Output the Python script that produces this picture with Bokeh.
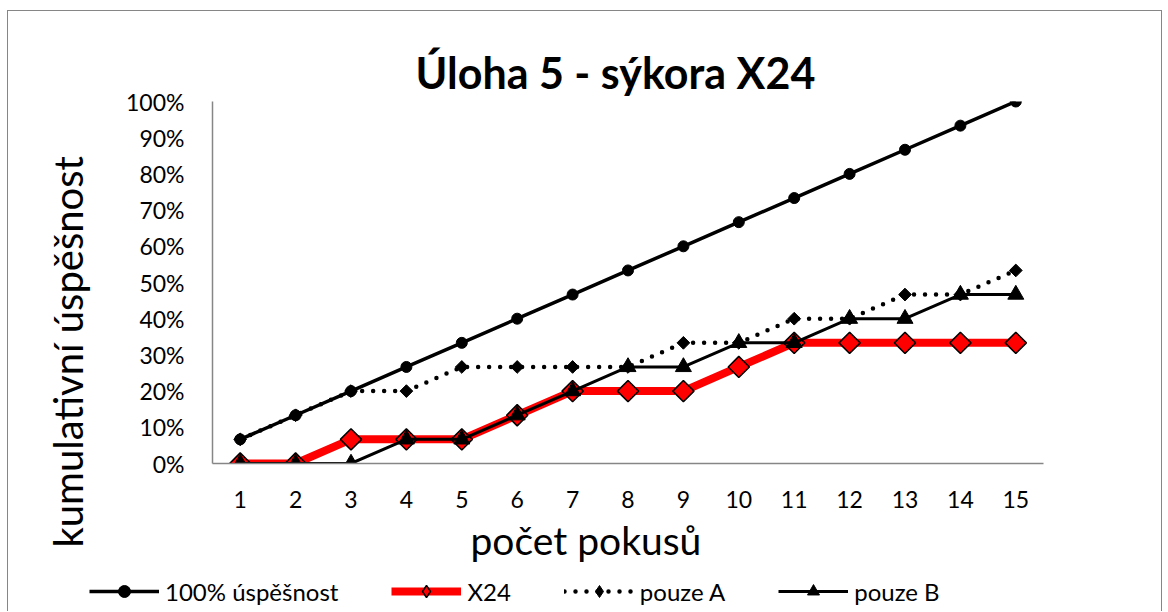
from bokeh.plotting import figure
from bokeh.models import Range1d, FixedTicker, NumeralTickFormatter, Legend, LegendItem, Title
from bokeh.layouts import column
from bokeh.embed import file_html
from bokeh.resources import INLINE
import math

# ---- data ----
attempts = [1, 2, 3, 4, 5, 6, 7, 8, 9, 10, 11, 12, 13, 14, 15]
full_success = [0.0667, 0.1333, 0.2000, 0.2667, 0.3333, 0.4000, 0.4667, 0.5333,
                0.6000, 0.6667, 0.7333, 0.8000, 0.8667, 0.9333, 1.0000]
x24 = [0.0, 0.0, 0.0667, 0.0667, 0.0667, 0.1333, 0.2000, 0.2000, 0.2000,
       0.2667, 0.3333, 0.3333, 0.3333, 0.3333, 0.3333]
only_a = [0.0667, 0.1333, 0.2000, 0.2000, 0.2667, 0.2667, 0.2667, 0.2667,
          0.3333, 0.3333, 0.4000, 0.4000, 0.4667, 0.4667, 0.5333]
only_b = [0.0, 0.0, 0.0, 0.0667, 0.0667, 0.1333, 0.2000, 0.2667, 0.2667,
          0.3333, 0.3333, 0.4000, 0.4000, 0.4667, 0.4667]
y_ticks = [0, 0.1, 0.2, 0.3, 0.4, 0.5, 0.6, 0.7, 0.8, 0.9, 1.0]

title_text = "Úloha 5 - sýkora X24"
x_label = "počet pokusů"
y_label = "kumulativní úspěšnost"
names = ["100% úspěšnost", "X24", "pouze A", "pouze B"]

FONT = "Lato"
AXIS_GRAY = "#868686"
BORDER = "1px solid #868686"

# series styles
S_FULL = dict(line=dict(line_color="black", line_width=3.5),
              mark=dict(marker="circle", size=11, fill_color="black", line_color="black"))
S_X24 = dict(line=dict(line_color="#FF0000", line_width=8),
             mark=dict(marker="square", angle=math.pi / 4, size=15, fill_color="#FF0000",
                       line_color="black", line_width=1.5))
S_A = dict(line=dict(line_color="black", line_width=4.5, line_dash="0 11", line_cap="round"),
           mark=dict(marker="square", angle=math.pi / 4, size=9, fill_color="black", line_color="black"))
S_B = dict(line=dict(line_color="black", line_width=3),
           mark=dict(marker="triangle", size=16, fill_color="black", line_color="black"))
styles = [S_FULL, S_X24, S_A, S_B]
series = [full_success, x24, only_a, only_b]

# legend glyph markers (the legend does not rotate markers, so use diamonds there)
legend_marks = [
    dict(marker="circle", size=11, fill_color="black", line_color="black"),
    dict(marker="diamond", size=20, fill_color="#FF0000", line_color="black", line_width=1.5),
    dict(marker="diamond", size=12, fill_color="black", line_color="black"),
    dict(marker="triangle", size=16, fill_color="black", line_color="black"),
]

# ---------------- main chart ----------------
p = figure(width=1155, height=560, output_backend="svg", toolbar_location=None,
           x_range=Range1d(0.5, 15.5), y_range=Range1d(0, 1),
           min_border_left=204, min_border_right=120, min_border_top=90,
           min_border_bottom=108)
p.frame_align = False
p.styles = {"border-left": BORDER, "border-top": BORDER, "border-right": BORDER}

p.title.text = title_text
p.title.text_font = FONT
p.title.text_font_size = "43px"
p.title.text_font_style = "bold"
p.title.align = "left"
p.title.offset = 203
p.title.text_color = "black"
p.title.standoff = 8

p.outline_line_color = None
p.xgrid.visible = False
p.ygrid.visible = False

p.xaxis.ticker = FixedTicker(ticks=attempts)
p.yaxis.ticker = FixedTicker(ticks=y_ticks)
p.yaxis.formatter = NumeralTickFormatter(format="0%")
for ax in (p.xaxis[0], p.yaxis[0]):
    ax.axis_line_color = AXIS_GRAY
    ax.axis_line_width = 1.5
    ax.major_tick_line_color = None
    ax.minor_tick_line_color = None
    ax.major_label_text_font = FONT
    ax.major_label_text_font_size = "23px"
    ax.major_label_text_color = "black"
p.xaxis.major_label_standoff = 21
p.yaxis.major_label_standoff = 22

ytitle = Title(text=y_label, align="left", offset=-84, standoff=64,
               text_font=FONT, text_font_size="40px", text_font_style="normal",
               text_color="black")
p.add_layout(ytitle, "left")
xtitle = Title(text=x_label, align="left", offset=258, standoff=8,
               text_font=FONT, text_font_size="39px", text_font_style="normal",
               text_color="black")
p.add_layout(xtitle, "below")

for ys, st in zip(series, styles):
    p.line(attempts, ys, **st["line"])
    p.scatter(attempts, ys, **st["mark"])

# ---------------- legend strip ----------------
# same series drawn off-range, so that only their legend glyphs show
lg = figure(width=1155, height=41, output_backend="svg", toolbar_location=None,
            x_axis_location=None, y_axis_location=None,
            x_range=Range1d(100, 101), y_range=Range1d(100, 101),
            min_border_left=0, min_border_right=0, min_border_top=0, min_border_bottom=0)
lg.frame_align = False
lg.styles = {"border-left": BORDER, "border-right": BORDER}
lg.outline_line_color = None
lg.xgrid.visible = False
lg.ygrid.visible = False

items = []
for name, ys, st, mk in zip(names, series, styles, legend_marks):
    r_line = lg.line(attempts, ys, **st["line"])
    r_mark = lg.scatter(attempts, ys, **mk)
    items.append(LegendItem(label=name, renderers=[r_line, r_mark]))

legend = Legend(items=items, orientation="horizontal", location=(81, 5), spacing=53,
                glyph_width=70, glyph_height=30, label_standoff=6, padding=0, margin=0,
                border_line_color=None, background_fill_alpha=0,
                label_text_font=FONT, label_text_font_size="24px", label_text_color="black")
lg.add_layout(legend, "center")

layout = column(p, lg, spacing=0)
layout.margin = (10, 0, 0, 7)

open("out.html", "w").write(file_html(layout, INLINE))
